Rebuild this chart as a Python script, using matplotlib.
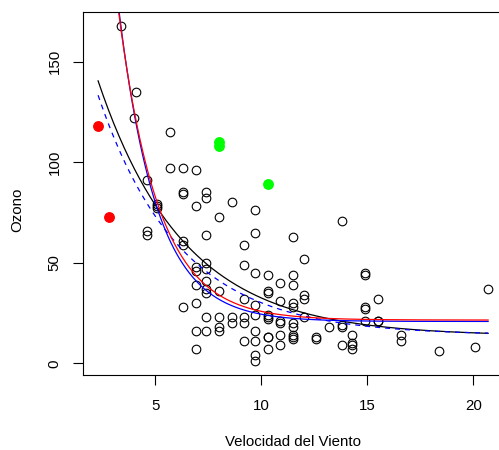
import numpy as np
import matplotlib
matplotlib.use("Agg")
import matplotlib.pyplot as plt

plt.rcParams["font.family"] = ["Liberation Sans", "DejaVu Sans"]

# airquality rows with Ozone present (Wind, Ozone)
wind = [7.4, 8.0, 12.6, 11.5, 14.9, 8.6, 13.8, 20.1, 6.9, 9.7, 9.2, 10.9, 13.2, 11.5,
        12.0, 18.4, 11.5, 9.7, 9.7, 16.6, 9.7, 12.0, 12.0, 14.9, 5.7, 7.4, 9.7, 13.8,
        11.5, 8.0, 14.9, 20.7, 9.2, 11.5, 10.3, 4.1, 9.2, 9.2, 4.6, 10.9, 5.1, 6.3,
        5.7, 7.4, 14.3, 14.9, 14.3, 6.9, 10.3, 6.3, 5.1, 11.5, 6.9, 8.6, 8.0, 8.6,
        12.0, 7.4, 7.4, 7.4, 9.2, 6.9, 13.8, 7.4, 6.9, 7.4, 4.6, 4.0, 10.3, 8.0,
        11.5, 11.5, 9.7, 10.3, 6.3, 7.4, 10.9, 10.3, 15.5, 14.3, 9.7, 3.4, 8.0, 9.7,
        2.3, 6.3, 6.3, 6.9, 5.1, 2.8, 4.6, 7.4, 15.5, 10.9, 10.3, 10.9, 9.7, 14.9,
        15.5, 6.3, 10.9, 11.5, 6.9, 13.8, 10.3, 10.3, 8.0, 12.6, 9.2, 10.3, 10.3,
        16.6, 6.9, 14.3, 8.0, 11.5]
ozone = [41, 36, 12, 18, 28, 23, 19, 8, 7, 16, 11, 14, 18, 14,
         34, 6, 30, 11, 1, 11, 4, 32, 23, 45, 115, 37, 29, 71,
         39, 23, 21, 37, 20, 12, 13, 135, 49, 32, 64, 40, 77, 97,
         97, 85, 10, 27, 7, 48, 35, 61, 79, 63, 16, 80, 108, 20,
         52, 82, 50, 64, 59, 39, 9, 16, 78, 35, 66, 122, 89, 110,
         44, 28, 65, 22, 59, 23, 31, 44, 21, 9, 45, 168, 73, 76,
         118, 84, 85, 96, 78, 73, 91, 47, 32, 20, 23, 21, 24, 44,
         21, 28, 9, 13, 46, 18, 13, 24, 16, 13, 23, 36, 7,
         14, 30, 14, 18, 20]

# highlighted observations
red_wind, red_ozone = [2.3, 2.8], [118, 73]
green_wind, green_ozone = [8.0, 8.0, 10.3], [108, 110, 89]

# fitted curves y = c + a * exp(-b * x), coefficients
fit_all = (224.0, 0.247, 13.55)      # black
fit_dash = (217.0, 0.26, 14.0)       # blue dashed
fit_red = (867.0, 0.53, 21.5)        # red
fit_blue = (973.0, 0.56, 20.8)       # blue


def expdecay(x, p):
    a, b, c = p
    return c + a * np.exp(-b * x)


wind = np.array(wind)
ozone = np.array(ozone)
hl = set(zip(red_wind, red_ozone)) | set(zip(green_wind, green_ozone))
keep = np.array([(w, o) not in hl for w, o in zip(wind, ozone)])

fig = plt.figure(figsize=(4.99, 4.5), dpi=100)
W, H = 499, 450
x0, x1, ytop, ybot = 82.5, 503.7, 12.1, 374.7
ax = fig.add_axes([x0 / W, 1 - ybot / H, (x1 - x0) / W, (ybot - ytop) / H])

ax.plot(wind[keep], ozone[keep], "o", mfc="none", mec="black", ms=6.2, mew=0.8)
ax.plot(red_wind, red_ozone, "o", color="red", ms=6.8)
ax.plot(green_wind, green_ozone, "o", color="#00FF00", ms=6.8)

xs = np.linspace(wind.min(), wind.max(), 300)
ax.plot(xs, expdecay(xs, fit_all), color="black", lw=0.9)
ax.plot(xs, expdecay(xs, fit_dash), color="blue", lw=0.9, dashes=(4, 4))
ax.plot(xs, expdecay(xs, fit_blue), color="blue", lw=0.9)
ax.plot(xs, expdecay(xs, fit_red), color="red", lw=0.9)

span = wind.max() - wind.min()
ax.set_xlim(wind.min() - 0.04 * span, wind.max() + 0.04 * span)
span = ozone.max() - ozone.min()
ax.set_ylim(ozone.min() - 0.04 * span, ozone.max() + 0.04 * span)

ax.set_xticks([5, 10, 15, 20])
ax.set_yticks([0, 50, 100, 150])
ax.tick_params(axis="both", direction="out", length=7, width=0.8, labelsize=10.8)
ax.tick_params(axis="x", pad=10.5)
ax.tick_params(axis="y", pad=8)
for lab in ax.get_yticklabels():
    lab.set_rotation(90)
    lab.set_va("center")
for s in ax.spines.values():
    s.set_linewidth(0.8)

fig.text((x0 + x1) / 2 / W, 1 - 441.5 / H, "Velocidad del Viento",
         ha="center", va="center", fontsize=10.8)
fig.text(17 / W, 1 - 210 / H, "Ozono", rotation=90,
         ha="center", va="center", fontsize=10.8)

fig.savefig("out.png", dpi=100)
